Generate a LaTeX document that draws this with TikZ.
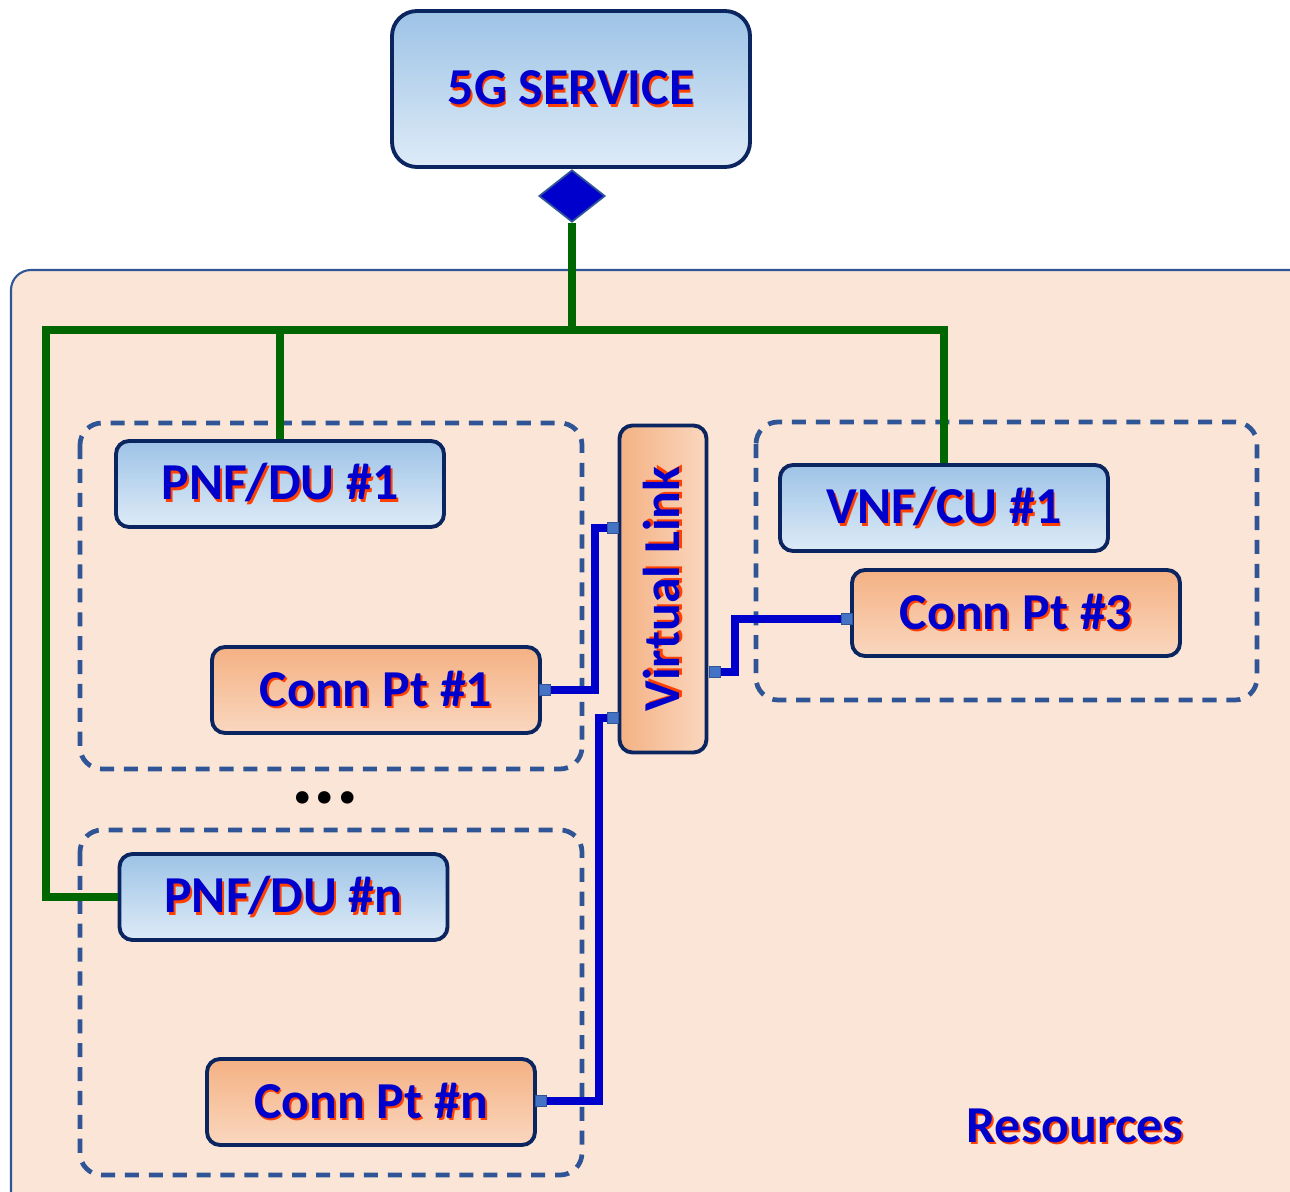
\documentclass[tikz,border=0pt]{standalone}
\usepackage{fontspec}
\setmainfont{Carlito}
\usetikzlibrary{shapes.geometric,calc}
\definecolor{navy}{HTML}{0B2560}
\definecolor{bluetop}{HTML}{9DC3E6}
\definecolor{bluebot}{HTML}{DEEBF7}
\definecolor{orgtop}{HTML}{F4B183}
\definecolor{orgbot}{HTML}{FAD7BF}
\definecolor{resfill}{HTML}{FBE5D6}
\definecolor{dashc}{HTML}{2F5597}
\definecolor{txtblue}{HTML}{0000CC}
\definecolor{shadowc}{HTML}{FF4000}
\definecolor{gline}{HTML}{006600}
\definecolor{portfill}{HTML}{4472C4}
\newdimen\upx \upx=0.02cm
\newcommand\shd[1]{\leavevmode\rlap{\kern1.1pt\raisebox{-1.5pt}{\textcolor{shadowc}{#1}}}\textcolor{txtblue}{#1}}
\begin{document}
\begin{tikzpicture}[x=0.02cm,y=-0.02cm,
  lbl/.style={font=\bfseries\fontsize{29.5}{34}\selectfont, inner sep=0pt},
  boxbase/.style={draw=navy, line width=2.2pt, rounded corners=13\upx, lbl},
  bluebox/.style={boxbase, top color=bluetop, bottom color=bluebot, minimum width=328\upx, minimum height=86\upx},
  orangebox/.style={boxbase, top color=orgtop, bottom color=orgbot, minimum width=328\upx, minimum height=86\upx},
  grp/.style={draw=dashc, line width=2.7pt, dash pattern=on 8pt off 5.6pt, rounded corners=22\upx},
  port/.style={draw=dashc, fill=portfill, line width=0.6pt, minimum size=11\upx, inner sep=0pt},
  greenln/.style={draw=gline, line width=4.4pt},
  blueln/.style={draw=txtblue, line width=4.2pt}
]
\useasboundingbox (0,0) rectangle (1290,1192);
\clip (0,0) rectangle (1290,1192);
\fill[white] (0,0) rectangle (1290,1192);

% Resources area
\draw[fill=resfill, draw=dashc, line width=1.2pt, rounded corners=20\upx] (11,270) rectangle (1330,1240);
\node[lbl] (reslbl) at (1075,1127) {\shd{Resources}};

% dashed groups
\draw[grp] (80,423) rectangle (582,769);
\draw[grp] (80,830) rectangle (582,1175);
\draw[grp] (756,422) rectangle (1257,700);

% service
\node[boxbase, rounded corners=25\upx, top color=bluetop, bottom color=bluebot, minimum width=358\upx, minimum height=156\upx] (svc) at (571,89) {\shd{5G SERVICE}};
\node[diamond, draw=dashc, fill=txtblue, line width=1pt, minimum width=66\upx, minimum height=52\upx, inner sep=0pt] (dia) at (572,196) {};

% nodes
\node[bluebox] (pnf1) at (280,484) {\shd{PNF/DU \#1}};
\node[orangebox] (cp1) at (376,690) {\shd{Conn Pt \#1}};
\node[bluebox] (pnfn) at (283.5,897) {\shd{PNF/DU \#n}};
\node[orangebox] (cpn) at (371,1102) {\shd{Conn Pt \#n}};
\node[bluebox] (vnf) at (944,508) {\shd{VNF/CU \#1}};
\node[orangebox] (cp3) at (1016,613) {\shd{Conn Pt \#3}};
\node[boxbase, left color=orgtop, right color=orgbot, minimum width=327\upx, minimum height=87\upx, rotate=90] (vl) at (663,589) {\shd{Virtual Link}};

\node[font=\bfseries\fontsize{48}{48}\selectfont, inner sep=0pt] (dots) at (325,798) {...};

% green bus
\coordinate (bus) at (572,330);
\coordinate (busL) at (46,330);
\draw[greenln] (dia.south) -- (bus);
\draw[greenln] (pnfn.west) -| (busL) -| (vnf.north);
\draw[greenln] (pnf1.north) -- (pnf1.north |- bus);

% ports
\coordinate (p1c) at (545,690);
\coordinate (vl1c) at (613,528);
\coordinate (vl2c) at (613,718);
\coordinate (pnc) at (541,1101);
\coordinate (vl3c) at (715,672);
\coordinate (p3c) at (847,619);
\draw[blueln] (p1c) -- ++(50,0) |- (vl1c);
\draw[blueln] (vl2c) -- ++(-14,0) |- (pnc);
\draw[blueln] (vl3c) -- ++(20,0) |- (p3c);
\node[port] (p1) at (p1c) {};
\node[port] (vl1) at (vl1c) {};
\node[port] (vl2) at (vl2c) {};
\node[port] (pn) at (pnc) {};
\node[port] (vl3) at (vl3c) {};
\node[port] (p3) at (p3c) {};
\end{tikzpicture}
\end{document}
